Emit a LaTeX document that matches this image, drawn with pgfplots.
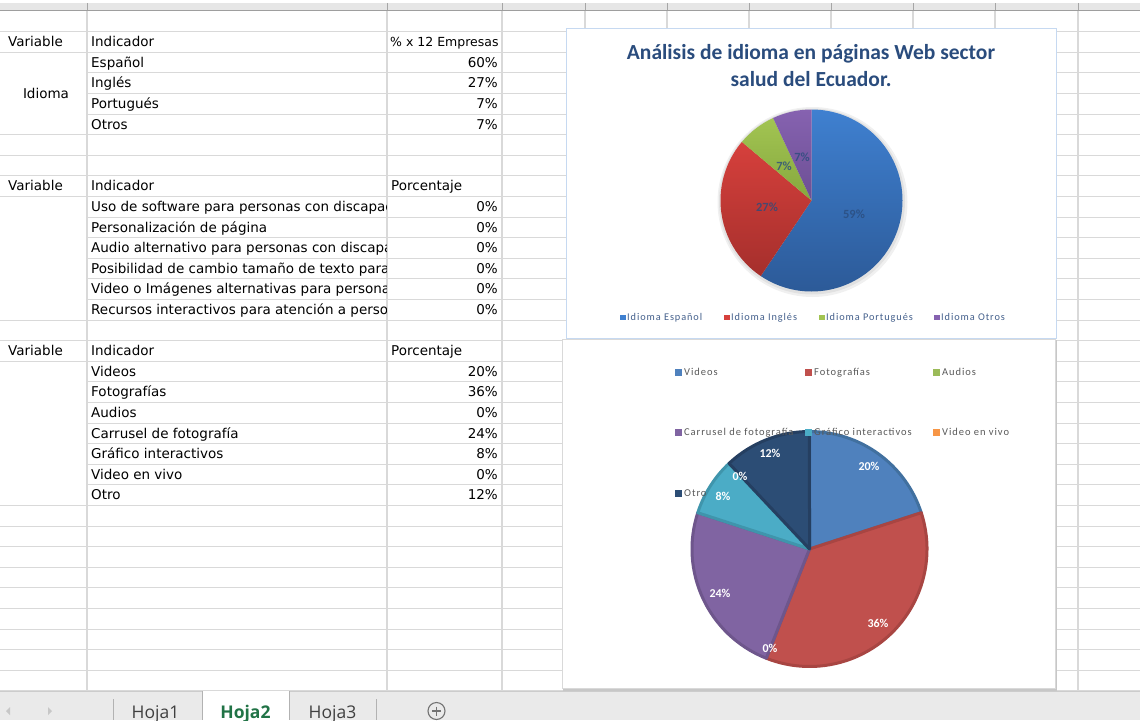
\documentclass[border=0pt]{standalone}
\usepackage{pgfplots}
\pgfplotsset{compat=1.18}
\usepackage{pgfplotstable}
\usepackage{fontspec}
\setmainfont{DejaVu Sans}
\newfontfamily\calf{Carlito}
\newfontfamily\calsp{Carlito}[LetterSpace=9]
\newfontfamily\tabf{Open Sans}

\definecolor{gridc}{HTML}{D9D9D9}
\definecolor{hdr}{HTML}{E6E6E6}
\definecolor{titleblue}{HTML}{2A4C7D}
\definecolor{leg1}{HTML}{44608C}
\definecolor{leg2}{HTML}{595959}
\definecolor{p1blueT}{HTML}{3F80D0}\definecolor{p1blueB}{HTML}{2C5A98}
\definecolor{p1redT}{HTML}{D6403C}\definecolor{p1redB}{HTML}{A52F2C}
\definecolor{p1greenT}{HTML}{A2C452}\definecolor{p1greenB}{HTML}{86A83E}
\definecolor{p1purT}{HTML}{8662B0}\definecolor{p1purB}{HTML}{6C4F94}
\definecolor{c2blue}{HTML}{4F81BD}\definecolor{c2blueE}{HTML}{41709F}
\definecolor{c2red}{HTML}{C0504D}\definecolor{c2redE}{HTML}{A84542}
\definecolor{c2green}{HTML}{9BBB59}\definecolor{c2greenE}{HTML}{82A047}
\definecolor{c2pur}{HTML}{8064A2}\definecolor{c2purE}{HTML}{6E568C}
\definecolor{c2cyan}{HTML}{4BACC6}\definecolor{c2cyanE}{HTML}{3F95AC}
\definecolor{c2orange}{HTML}{F79646}\definecolor{c2orangeE}{HTML}{D77E35}
\definecolor{c2navy}{HTML}{2C4D75}\definecolor{c2navyE}{HTML}{253F61}
\definecolor{tabbg}{HTML}{EAEAEA}
\definecolor{tabgreen}{HTML}{217346}

% Idioma (sheet values, % x 12 empresas)
\pgfplotstableread{
name value ctop cbot cedge
Espanol 60 p1blueT p1blueB none
Ingles 27 p1redT p1redB none
Portugues 7 p1greenT p1greenB none
Otros 7 p1purT p1purB none
}\tabIdioma

% Recursos multimedia (porcentaje)
\pgfplotstableread{
name value ctop cbot cedge
Videos 20 c2blue c2blue c2blueE
Fotografias 36 c2red c2red c2redE
Audios 0 c2green c2green c2greenE
Carrusel 24 c2pur c2pur c2purE
Grafico 8 c2cyan c2cyan c2cyanE
VideoVivo 0 c2orange c2orange c2orangeE
Otro 12 c2navy c2navy c2navyE
}\tabMedios

% pie from table: #1 table, #2 cx, #3 cy, #4 radius, #5 total, #6 edge width
\newcommand\drawpie[6]{%
  \pgfplotstablegetrowsof{#1}%
  \pgfmathtruncatemacro\pielast{\pgfplotsretval-1}%
  \gdef\piecum{90}%
  \foreach \i in {0,...,\pielast}{%
    \pgfplotstablegetelem{\i}{value}\of{#1}\pgfmathsetmacro\pieval{\pgfplotsretval}%
    \pgfplotstablegetelem{\i}{ctop}\of{#1}\edef\ctop{\pgfplotsretval}%
    \pgfplotstablegetelem{\i}{cbot}\of{#1}\edef\cbot{\pgfplotsretval}%
    \pgfplotstablegetelem{\i}{cedge}\of{#1}\edef\cedge{\pgfplotsretval}%
    \pgfmathsetmacro\pieend{\piecum-(\pieval/#5)*360}%
    \ifdim\pieval pt>0pt
      \shadedraw[top color=\ctop, bottom color=\cbot, draw=\cedge, line width=#6, line join=round]
        (#2,#3) -- ++(\piecum:#4pt) arc[start angle=\piecum, end angle=\pieend, radius=#4pt] -- cycle;
    \fi
    \xdef\piecum{\pieend}%
  }%
}

\newcommand\rowb[1]{\fpeval{26+20.6*(#1-1)}}
\newcommand\cellfont{\fontsize{13.5}{15}\selectfont}
\newcommand\tl[3]{\node[anchor=base west,inner sep=0pt,font=\cellfont] at (#1,\rowb{#2}) {#3};}
\newcommand\tr[3]{\node[anchor=base east,inner sep=0pt,font=\cellfont] at (#1,\rowb{#2}) {#3};}
\newcommand\legsq[4]{% x, y, color, text
  \fill[#3] (#1,{#2-3.5}) rectangle ({#1+7},{#2+3.5});
  \node[anchor=base west,inner sep=0pt,font=\calsp\fontsize{10.5}{12}\selectfont,text=leg2] at ({#1+9},{#2+3.6}) {#4};}
\newcommand\legsqa[4]{% chart 1 legend
  \fill[#3] (#1,{#2-2.8}) rectangle ({#1+5.6},{#2+2.8});
  \node[anchor=base west,inner sep=0pt,font=\calsp\fontsize{10.3}{12}\selectfont,text=leg1] at ({#1+7},{#2+3.4}) {#4};}

\begin{document}
\begin{tikzpicture}
\begin{axis}[width=1140pt,height=720pt,scale only axis,
  xmin=0,xmax=1140,ymin=0,ymax=720,y dir=reverse,
  hide axis,enlargelimits=false]
\pgfplotsextra{
  % background
  \fill[white] (0,0) rectangle (1140,720);
  % column header strip
  \fill[hdr] (0,3) rectangle (1140,10);
  \foreach \x in {87,387,502,585,667,749,831,913,995,1078}
    \draw[color=black!35,line width=1pt] (\x,3) -- (\x,10);
  \draw[color=black!38,line width=1.3pt] (0,10.5) -- (1140,10.5);
  % grid
  \foreach \k in {1,...,33}
    \draw[gridc,line width=1pt] (87,{11+20.6*\k}) -- (1140,{11+20.6*\k});
  \foreach \k in {1,2,6,7,8,9,15,16,17,24,25,26,27,28,29,30,31,32,33}
    \draw[gridc,line width=1pt] (0,{11+20.6*\k}) -- (87,{11+20.6*\k});
  \foreach \x in {87,387,502,585,667,749,831,913,995,1078}
    \draw[gridc,line width=1.2pt] (\x,11) -- (\x,690.8);
  % ---- cell text
  \tl{8}{2}{Variable}\tl{8}{9}{Variable}\tl{8}{17}{Variable}
  \node[anchor=base,inner sep=0pt,font=\cellfont] at (46,98.6) {Idioma};
  \begin{scope}
    \clip (88,0) rectangle (386.5,720);
    \tl{91}{2}{Indicador}
    \tl{91}{3}{Español}\tl{91}{4}{Inglés}\tl{91}{5}{Portugués}\tl{91}{6}{Otros}
    \tl{91}{9}{Indicador}
    \tl{91}{10}{Uso de software para personas con discapacidad}
    \tl{91}{11}{Personalización de página}
    \tl{91}{12}{Audio alternativo para personas con discapacidad}
    \tl{91}{13}{Posibilidad de cambio tamaño de texto para personas}
    \tl{91}{14}{Video o Imágenes alternativas para personas}
    \tl{91}{15}{Recursos interactivos para atención a personas}
    \tl{91}{17}{Indicador}
    \tl{91}{18}{Videos}\tl{91}{19}{Fotografías}\tl{91}{20}{Audios}
    \tl{91}{21}{Carrusel de fotografía}\tl{91}{22}{Gráfico interactivos}
    \tl{91}{23}{Video en vivo}\tl{91}{24}{Otro}
  \end{scope}
  \node[anchor=base west,inner sep=0pt,font=\fontsize{12.5}{14}\selectfont] at (390,\rowb{2}) {\% x 12 Empresas};
  \tl{391}{9}{Porcentaje}\tl{391}{17}{Porcentaje}
  \tr{498}{3}{60\%}\tr{498}{4}{27\%}\tr{498}{5}{7\%}\tr{498}{6}{7\%}
  \foreach \r in {10,...,15} {\tr{498}{\r}{0\%}}
  \tr{498}{18}{20\%}\tr{498}{19}{36\%}\tr{498}{20}{0\%}\tr{498}{21}{24\%}
  \tr{498}{22}{8\%}\tr{498}{23}{0\%}\tr{498}{24}{12\%}
  % ---- chart 2 frame
  \draw[color=black!22,line width=1.2pt] (564,341) rectangle (1056,690);
  \filldraw[fill=white,draw=black!15,line width=1pt] (562,339) rectangle (1055,688);
  % ---- chart 1 frame
  \filldraw[fill=white,draw={rgb,255:red,198;green,217;blue,241},line width=1pt] (566,28) rectangle (1056,338);
  \node[anchor=base,inner sep=0pt,font=\calf\bfseries\fontsize{21.5}{24}\selectfont,text=titleblue] at (811,59.5) {Análisis de idioma en páginas Web sector};
  \node[anchor=base,inner sep=0pt,font=\calf\bfseries\fontsize{21.5}{24}\selectfont,text=titleblue] at (811,86.5) {salud del Ecuador.};
  % pie 1
  \fill[black,opacity=0.06] (812.5,202) circle[radius=95pt];
  \fill[black,opacity=0.06] (812,201.5) circle[radius=93pt];
  \drawpie{\tabIdioma}{811.5}{200.5}{91}{101}{0pt}
  \begin{scope}[every node/.style={font=\calf\bfseries\fontsize{12.5}{13}\selectfont,text=titleblue,text opacity=0.8,inner sep=0pt}]
    \node at (854,214) {59\%};
    \node at (767,207) {27\%};
    \node at (784,166) {7\%};
    \node at (802,157) {7\%};
  \end{scope}
  \legsqa{620}{317.5}{p1blueT}{Idioma Español}
  \legsqa{724}{317.5}{p1redT}{Idioma Inglés}
  \legsqa{819}{317.5}{p1greenT}{Idioma Portugués}
  \legsqa{934}{317.5}{p1purT}{Idioma Otros}
  % pie 2
  \drawpie{\tabMedios}{809.5}{549}{117.5}{100}{3pt}
  \legsq{675}{372}{c2blue}{Videos}
  \legsq{805}{372}{c2red}{Fotografías}
  \legsq{933}{372}{c2green}{Audios}
  \legsq{675}{432}{c2pur}{Carrusel de fotografía}
  \legsq{805}{432}{c2cyan}{Gráfico interactivos}
  \legsq{933}{432}{c2orange}{Video en vivo}
  \legsq{675}{493}{c2navy}{Otro}
  \begin{scope}[every node/.style={font=\calf\bfseries\fontsize{12}{13}\selectfont,text=white,inner sep=0pt}]
    \node at (869,466) {20\%};
    \node at (878,623) {36\%};
    \node at (770,648) {0\%};
    \node at (720,593) {24\%};
    \node at (723,496) {8\%};
    \node at (740,476) {0\%};
    \node at (770,453) {12\%};
  \end{scope}
  % ---- sheet tabs
  \fill[tabbg] (0,691.5) rectangle (1140,720);
  \draw[color=black!20,line width=1pt] (0,691.5) -- (1140,691.5);
  \fill[white] (202,691) rectangle (289,720);
  \draw[color=black!30,line width=1pt] (202,691) -- (202,720) (289,691) -- (289,720);
  \draw[color=black!30,line width=1pt] (113.5,699) -- (113.5,720) (376,699) -- (376,720);
  \fill[black!22] (10,707) -- (10,715) -- (6,711) -- cycle;
  \fill[black!22] (48,707) -- (48,715) -- (52,711) -- cycle;
  \node[anchor=base,inner sep=0pt,font=\tabf\fontsize{17.5}{19}\selectfont,text=black!75] at (155.5,718) {Hoja1};
  \node[anchor=base,inner sep=0pt,font=\tabf\bfseries\fontsize{17.5}{19}\selectfont,text=tabgreen] at (245.5,718) {Hoja2};
  \node[anchor=base,inner sep=0pt,font=\tabf\fontsize{17.5}{19}\selectfont,text=black!75] at (332.5,718) {Hoja3};
  \draw[color=black!55,line width=1.1pt] (436.5,711) circle[radius=8.5pt];
  \draw[color=black!55,line width=1.1pt] (432,711) -- (441,711) (436.5,706.5) -- (436.5,715.5);
}
\end{axis}
\end{tikzpicture}
\end{document}
